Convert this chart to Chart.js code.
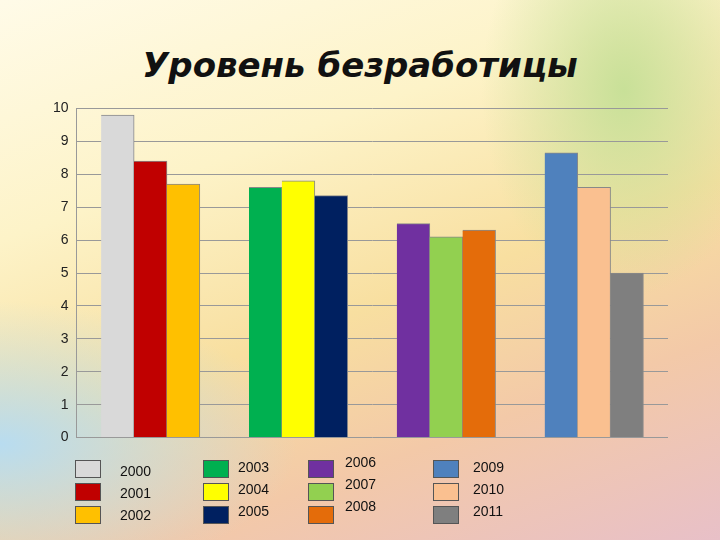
<!DOCTYPE html><html><head><meta charset="utf-8">
<script src="https://cdn.jsdelivr.net/npm/chart.js@4/dist/chart.umd.min.js"></script>
<style>
body{margin:0;width:720px;height:540px;overflow:hidden;font-family:"Liberation Sans","DejaVu Sans",sans-serif;
background:linear-gradient(160deg,#fffbe8 0%,#fdf3c8 30%,#f8dfa0 55%,#f3c9a8 75%,#e8c0c8 100%);position:relative}
#bg2{position:absolute;left:0;top:300px;width:300px;height:240px;background:radial-gradient(ellipse at 0% 60%,#b8dcf0 0%,rgba(184,220,240,0) 70%)}
#bg3{position:absolute;left:480px;top:0;width:240px;height:300px;background:radial-gradient(ellipse at 60% 30%,#c8e098 0%,rgba(200,224,152,0) 70%)}
#title{position:absolute;left:0;top:45px;width:720px;text-align:center;font-size:34px;font-weight:bold;font-style:italic;color:#111;font-family:"DejaVu Sans",sans-serif}
#wrap{position:absolute;left:45px;top:92px;width:635px;height:362px}
.lg{position:absolute;font-size:14px;color:#111;line-height:21px}
.sw{position:absolute;width:26px;height:18px;border:1px solid #555;box-sizing:border-box}
</style></head><body>
<div id="bg2"></div><div id="bg3"></div>
<div id="title">Уровень безработицы</div>
<div id="wrap"><canvas id="c" width="635" height="362"></canvas></div>
<div id="legend"></div>
<script>
const years=['2000','2001','2002','2003','2004','2005','2006','2007','2008','2009','2010','2011'];
const values=[9.8,8.4,7.7,7.6,7.8,7.35,6.5,6.1,6.3,8.65,7.6,5.0];
const colors=['#d9d9d9','#c00000','#ffc000','#00b050','#ffff00','#002060','#7030a0','#92d050','#e46c0a','#4f81bd','#fac090','#7f7f7f'];
const yTicks=[0,1,2,3,4,5,6,7,8,9,10];
const xpos=years.map((y,i)=>0.75+Math.floor(i/3)*4.5+(i%3)+0.5);
new Chart(document.getElementById('c'),{type:'bar',
data:{datasets:[{data:values.map((v,i)=>({x:xpos[i],y:v})),backgroundColor:colors,borderColor:'#888',borderWidth:{right:1,top:1,left:0,bottom:0},barThickness:33}]},
options:{responsive:false,animation:false,maintainAspectRatio:false,
layout:{padding:{left:0,right:12,top:4,bottom:5}},
plugins:{legend:{display:false},tooltip:{enabled:false}},
scales:{x:{type:'linear',min:0,max:18,display:false,offset:false},
y:{min:0,max:10,afterBuildTicks:a=>{a.ticks=yTicks.map(v=>({value:v}))},ticks:{color:'#222',font:{size:14,family:'Liberation Sans'},padding:8},
grid:{color:'#999',drawTicks:false},border:{display:true,color:'#999'}}}}});
const lg=document.getElementById('legend');
const gx=[75,203,308,433],tx=[120,238,345,473],ty=[[461,483,505],[457,479,501],[452,474,496],[457,479,501]];
years.forEach((y,i)=>{const g=Math.floor(i/3),k=i%3;
const s=document.createElement('div');s.className='sw';s.style.left=gx[g]+'px';s.style.top=(460+k*23)+'px';s.style.background=colors[i];lg.appendChild(s);
const t=document.createElement('div');t.className='lg';t.style.left=tx[g]+'px';t.style.top=ty[g][k]+'px';t.textContent=y;lg.appendChild(t);});
</script></body></html>
